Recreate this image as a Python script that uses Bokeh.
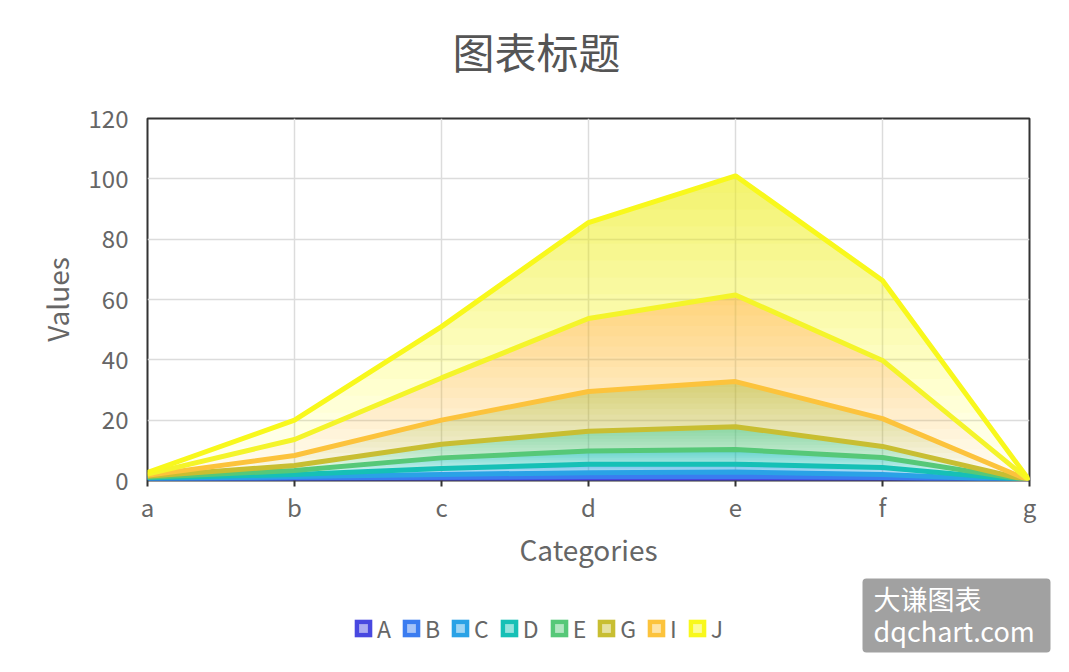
import numpy as np
from bokeh.plotting import figure
from bokeh.layouts import column, row
from bokeh.models import Range1d, FixedTicker, Label, Legend, LegendItem, ColumnDataSource
from bokeh.embed import file_html
from bokeh.resources import INLINE

# ---------------- data ----------------
categories = ["a", "b", "c", "d", "e", "f", "g"]
A = [0.2, 0.3, 0.4, 0.4, 0.4, 0.3, 0.0]
B = [0.2, 0.5, 0.7, 0.9, 1.0, 0.7, 0.0]
C = [0.2, 0.5, 0.9, 1.3, 1.4, 1.0, 0.0]
D = [0.3, 0.7, 2.0, 2.8, 2.6, 2.3, 0.0]
E = [0.2, 1.3, 3.5, 4.4, 4.9, 3.3, 0.0]
G = [0.3, 1.7, 4.5, 6.5, 7.5, 3.7, 0.0]
I = [0.3, 3.3, 8.0, 13.2, 15.0, 9.2, 0.0]
H = [0.4, 5.3, 14.0, 24.2, 28.7, 19.3, 0.0]
J = [0.6, 6.4, 17.0, 31.8, 39.5, 26.5, 0.0]

series_names = ["A", "B", "C", "D", "E", "G", "I", "H", "J"]
series_values = [A, B, C, D, E, G, I, H, J]
series_colors = ["#4848e0", "#3a7cf0", "#2aa2e6", "#16c0b6", "#56c878",
                 "#c8be32", "#fcc33c", "#f4f42a", "#f8f81c"]
legend_names = ["A", "B", "C", "D", "E", "G", "I", "J"]
y_ticks = [0, 20, 40, 60, 80, 100, 120]

FONT = "Noto Sans CJK SC"
W = 1061

x = np.arange(len(categories), dtype=float)
cum = np.cumsum(np.array(series_values, dtype=float), axis=0)


def blank_fig(h):
    f = figure(width=W, height=h, output_backend="svg", toolbar_location=None,
               x_range=Range1d(0, W), y_range=Range1d(h, 0),
               x_axis_type=None, y_axis_type=None, min_border=0,
               min_border_left=0, min_border_right=0, min_border_top=0,
               min_border_bottom=0)
    f.xgrid.visible = False
    f.ygrid.visible = False
    f.outline_line_color = None
    f.background_fill_color = "white"
    f.border_fill_color = "white"
    return f


# ---------------- title figure ----------------
top = blank_fig(100)
top.add_layout(Label(x=536, y=50, text="图表标题", text_align="center",
                     text_baseline="middle", text_font=FONT,
                     text_font_size="42px", text_color="#555555"))

# ---------------- main chart ----------------
p = figure(width=W, height=475, output_backend="svg", toolbar_location=None,
           x_range=Range1d(0, len(categories) - 1), y_range=Range1d(0, 120),
           min_border_left=147, min_border_right=32, min_border_top=18,
           min_border_bottom=95)
p.background_fill_color = "white"
p.border_fill_color = "white"
p.outline_line_color = "#333333"
p.outline_line_width = 2

p.xgrid.ticker = FixedTicker(ticks=list(x))
p.ygrid.ticker = FixedTicker(ticks=y_ticks)
for g in (p.xgrid, p.ygrid):
    g.grid_line_color = "#dcdcdc"
    g.grid_line_width = 1.5

p.xaxis.ticker = FixedTicker(ticks=list(x))
p.xaxis.major_label_overrides = {i: c for i, c in enumerate(categories)}
p.yaxis.ticker = FixedTicker(ticks=y_ticks)
for ax in (p.xaxis, p.yaxis):
    ax.axis_line_color = None
    ax.minor_tick_line_color = None
    ax.major_label_text_font = FONT
    ax.major_label_text_font_size = "24px"
    ax.major_label_text_color = "#666666"
    ax.axis_label_text_font = FONT
    ax.axis_label_text_font_size = "28px"
    ax.axis_label_text_font_style = "normal"
    ax.axis_label_text_color = "#666666"
p.xaxis.major_tick_line_color = "#333333"
p.xaxis.major_tick_line_width = 2
p.xaxis.major_tick_out = 6
p.xaxis.major_tick_in = 0
p.xaxis.major_label_standoff = 2
p.xaxis.axis_label = "Categories"
p.xaxis.axis_label_standoff = 2
p.yaxis.major_tick_line_color = None
p.yaxis.major_tick_out = 0
p.yaxis.major_tick_in = 0
p.yaxis.major_label_standoff = 19
p.yaxis.axis_label = "Values"
p.yaxis.axis_label_standoff = 9


def _cross(p0, p1, t):
    (x0, y0), (x1, y1) = p0, p1
    if y1 == y0:
        return (x0, t)
    return (x0 + (t - y0) * (x1 - x0) / (y1 - y0), t)


def clip_above(poly, t):
    out = []
    n = len(poly)
    for i in range(n):
        cur, prev = poly[i], poly[i - 1]
        cin, pin = cur[1] >= t, prev[1] >= t
        if cin:
            if not pin:
                out.append(_cross(prev, cur, t))
            out.append(cur)
        elif pin:
            out.append(_cross(prev, cur, t))
    return out


N_LAYERS = 18
A_MAX = 0.64
xs_all, ys_all, col_all, alp_all = [], [], [], []
for k in range(len(series_names) - 1):
    lower = cum[k]
    upper = cum[k + 1]
    poly = [(x[i], upper[i]) for i in range(len(x))] + \
           [(x[i], lower[i]) for i in range(len(x) - 1, -1, -1)]
    ymax = upper.max()
    prev_a = 0.0
    for n in range(1, N_LAYERS + 1):
        t = ymax * (n - 1) / N_LAYERS
        a_n = A_MAX * n / N_LAYERS
        delta = 1 - (1 - a_n) / (1 - prev_a)
        prev_a = a_n
        piece = clip_above(poly, t)
        if len(piece) < 3:
            continue
        xs_all.append([pt[0] for pt in piece])
        ys_all.append([pt[1] for pt in piece])
        col_all.append(series_colors[k])
        alp_all.append(delta)

band_src = ColumnDataSource(dict(xs=xs_all, ys=ys_all, color=col_all, alpha=alp_all))
p.patches("xs", "ys", source=band_src, fill_color="color", fill_alpha="alpha",
          line_color=None)

for k, name in enumerate(series_names):
    p.line(x, cum[k], line_color=series_colors[k], line_width=5)

# ---------------- bottom figure: legend + watermark ----------------
bot = blank_fig(90)
items = []
for name in legend_names:
    k = series_names.index(name)
    # proxy renderers placed off-canvas: only their legend glyphs are seen
    r1 = bot.quad(left=[-60], right=[-50], top=[-60], bottom=[-50],
                  fill_color=series_colors[k], line_color=None, border_radius=3)
    r2 = bot.scatter(x=[-55], y=[-55], marker="square", size=8, fill_color="white",
                     fill_alpha=0.55, line_color=None)
    items.append(LegendItem(label=name, renderers=[r1, r2]))
legend = Legend(items=items, orientation="horizontal", location=(352, 20),
                glyph_width=22, glyph_height=22, label_standoff=3, spacing=9,
                padding=0, margin=0, background_fill_alpha=0, border_line_color=None,
                label_text_font=FONT, label_text_font_size="23px",
                label_text_color="#666666", label_height=22, label_width=0)
bot.add_layout(legend)

bot.quad(left=[862], right=[1050], top=[3], bottom=[77], fill_color="#9c9c9c",
         fill_alpha=0.95, line_color=None, border_radius=4)
bot.add_layout(Label(x=873, y=23, text="大谦图表", text_align="left",
                     text_baseline="middle", text_font=FONT,
                     text_font_size="27px", text_color="white"))
bot.add_layout(Label(x=873, y=55, text="dqchart.com", text_align="left",
                     text_baseline="middle", text_font=FONT,
                     text_font_size="27px", text_color="white"))

layout = column(row(top), p, row(bot), spacing=0)
open("out.html", "w").write(file_html(layout, INLINE))
